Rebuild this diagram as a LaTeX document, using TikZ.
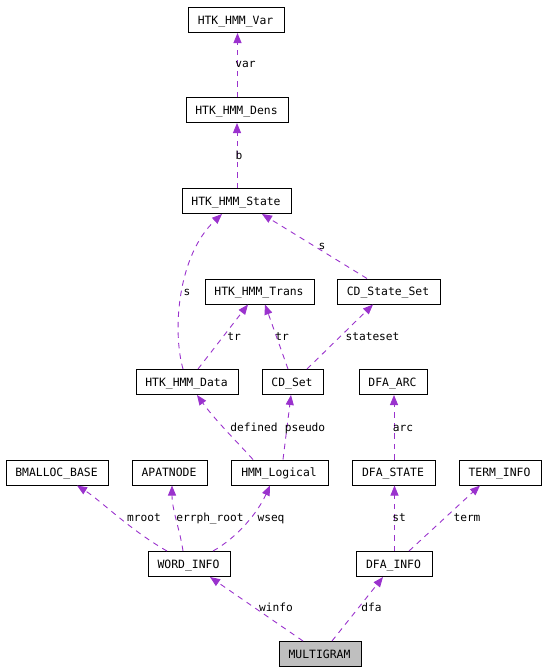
\documentclass[tikz,border=0pt]{standalone}
\usepackage{fontspec}
\newfontfamily\dmono{DejaVu Sans Mono}
\usetikzlibrary{arrows.meta,calc}
\definecolor{edgecol}{HTML}{9A32CD}
\definecolor{rootfill}{HTML}{BFBFBF}
\begin{document}
\begin{tikzpicture}[x=1pt,y=-1pt,
  box/.style={draw=black,line width=1pt,fill=white,minimum height=25pt,inner xsep=9.3pt,inner ysep=0pt,
    text height=8.3pt,text depth=0pt,font=\dmono\fontsize{11.4}{13}\selectfont,
    execute at end node=\kern2pt},
  rootbox/.style={box,fill=rootfill},
  lbl/.style={inner sep=0pt,text height=8.3pt,text depth=0pt,font=\dmono\fontsize{11.2}{13}\selectfont},
  edge/.style={draw=edgecol,line width=0.9pt,dash pattern=on 5.5pt off 5pt,
    -{Triangle[length=10pt,width=8pt,fill=edgecol]}}]
\useasboundingbox (0,0) rectangle (547,672);
% nodes
\node[box] (var)    at (236.5,20)  {HTK\_HMM\_Var};
\node[box] (dens)   at (237.5,110) {HTK\_HMM\_Dens};
\node[box] (state)  at (237,201)   {HTK\_HMM\_State};
\node[box] (trans)  at (260,291.5) {HTK\_HMM\_Trans};
\node[box] (css)    at (389,291.5) {CD\_State\_Set};
\node[box] (data)   at (187.5,382) {HTK\_HMM\_Data};
\node[box] (cdset)  at (293,382)   {CD\_Set};
\node[box] (arc)    at (393.5,382) {DFA\_ARC};
\node[box] (bm)     at (57.5,472.5) {BMALLOC\_BASE};
\node[box] (apat)   at (170,472.5) {APATNODE};
\node[box] (hmml)   at (280,472.5) {HMM\_Logical};
\node[box] (dstate) at (394,472.5) {DFA\_STATE};
\node[box] (term)   at (500.5,472.5) {TERM\_INFO};
\node[box] (word)   at (189.5,564) {WORD\_INFO};
\node[box] (dinfo)  at (394.5,564) {DFA\_INFO};
\node[rootbox] (multi) at (320.5,654) {MULTIGRAM};
% edges
\draw[edge] (dens.north) -- (dens.north |- var.south);
\draw[edge] (state.north) -- (state.north |- dens.south);
\draw[edge] ([xshift=-4.5pt]data.north) .. controls (172,330) and (178,255) .. ([xshift=-15pt]state.south);
\draw[edge] ([xshift=-22pt]css.north) -- ([xshift=25pt]state.south);
\draw[edge] ([xshift=10.5pt]data.north) -- ([xshift=-12pt]trans.south);
\draw[edge] ([xshift=-5pt]cdset.north) -- ([xshift=5pt]trans.south);
\draw[edge] ([xshift=14pt]cdset.north) -- ([xshift=-16pt]css.south);
\draw[edge] ([xshift=-27pt]hmml.north) .. controls (240,445) and (215,420) .. ([xshift=9.5pt]data.south);
\draw[edge] ([xshift=3pt]hmml.north) -- ([xshift=-2pt]cdset.south);
\draw[edge] (dstate.north) -- (dstate.north |- arc.south);
\draw[edge] ([xshift=-22.5pt]word.north) .. controls (130,530) and (100,500) .. ([xshift=19.5pt]bm.south);
\draw[edge] ([xshift=-6.5pt]word.north) .. controls (180,530) and (172,510) .. ([xshift=2pt]apat.south);
\draw[edge] ([xshift=23.5pt]word.north) .. controls (238,537) and (258,512) .. ([xshift=-10pt]hmml.south);
\draw[edge] (dinfo.north) -- (dinfo.north |- dstate.south);
\draw[edge] ([xshift=14.5pt]dinfo.north) -- ([xshift=-20.5pt]term.south);
\draw[edge] ([xshift=-17.5pt]multi.north) -- ([xshift=20.5pt]word.south);
\draw[edge] ([xshift=11.5pt]multi.north) -- ([xshift=-11.5pt]dinfo.south);
% labels
\node[lbl] (l1)  at (245.5,63)  {var};
\node[lbl] (l2)  at (239,155)   {b};
\node[lbl] (l3)  at (187,291)   {s};
\node[lbl] (l4)  at (322,245)   {s};
\node[lbl] (l5)  at (234,336)   {tr};
\node[lbl] (l6)  at (282,336)   {tr};
\node[lbl] (l7)  at (372.5,336) {stateset};
\node[lbl] (l8)  at (254,427)   {defined};
\node[lbl] (l9)  at (305,427)   {pseudo};
\node[lbl] (l10) at (403,427)   {arc};
\node[lbl] (l11) at (144,517)   {mroot};
\node[lbl] (l12) at (210,517)   {errph\_root};
\node[lbl] (l13) at (271,517)   {wseq};
\node[lbl] (l14) at (399,517)   {st};
\node[lbl] (l15) at (467,517)   {term};
\node[lbl] (l16) at (276,607)   {winfo};
\node[lbl] (l17) at (371.5,607) {dfa};
\end{tikzpicture}
\end{document}
